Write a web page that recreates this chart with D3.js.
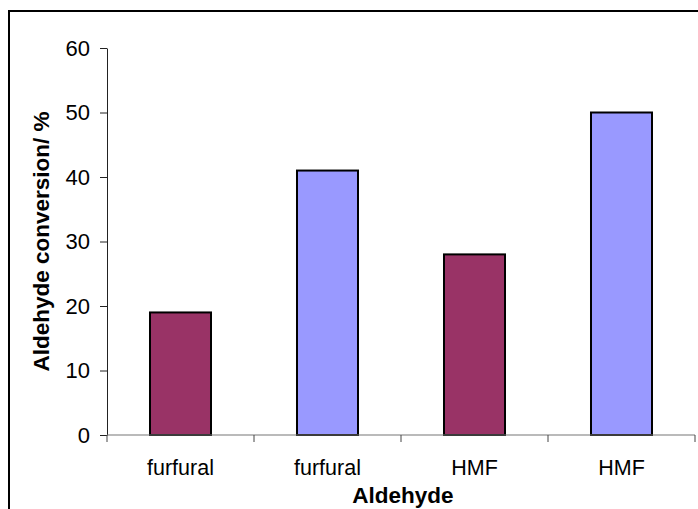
<!DOCTYPE html>
<html>
<head>
<meta charset="utf-8">
<script src="https://cdn.jsdelivr.net/npm/d3@7"></script>
<style>
  html, body { margin: 0; padding: 0; background: #fff; }
  svg { display: block; }
  text { font-family: "Liberation Sans", Arial, sans-serif; fill: #000; }
</style>
</head>
<body>
<svg id="chart" width="698" height="509"></svg>
<script>
// Aldehyde conversion for each run
const categories = ["furfural", "furfural", "HMF", "HMF"];
const conversion = [19, 41, 28, 50];
const barColors = ["#993366", "#9999FF", "#993366", "#9999FF"];
const yTicks = [0, 10, 20, 30, 40, 50, 60];
const xTitle = "Aldehyde";
const yTitle = "Aldehyde conversion/ %";

const svg = d3.select("#chart");
const plotLeft = 107, plotRight = 695, plotTop = 48, plotBottom = 435;

// Outer chart frame
svg.append("rect")
  .attr("x", 9).attr("y", 11)
  .attr("width", 720).attr("height", 540)
  .attr("fill", "none").attr("stroke", "#000").attr("stroke-width", 2);

const x = d3.scaleBand().domain(d3.range(categories.length)).range([plotLeft, plotRight]).padding(0);
const y = d3.scaleLinear().domain([0, 60]).range([plotBottom, plotTop]);

// Bars
const barW = x.bandwidth() * 0.415;
svg.append("g").selectAll("rect")
  .data(conversion)
  .join("rect")
  .attr("x", (d, i) => x(i) + (x.bandwidth() - barW) / 2)
  .attr("y", d => y(d))
  .attr("width", barW)
  .attr("height", d => y(0) - y(d))
  .attr("fill", (d, i) => barColors[i])
  .attr("stroke", "#000")
  .attr("stroke-width", 2);

// Y axis
const yAxis = svg.append("g")
  .attr("transform", `translate(${plotLeft},0)`)
  .call(d3.axisLeft(y).tickValues(yTicks).tickSize(7).tickSizeOuter(0).tickPadding(10));
yAxis.select(".domain").attr("stroke", "#222");
yAxis.selectAll(".tick line").attr("stroke", "#222");
yAxis.selectAll(".tick text")
  .style("font-size", "22px")
  .style("font-family", "'Liberation Sans', Arial, sans-serif");

// X axis: ticks sit on category boundaries
const boundaries = d3.range(categories.length + 1).map(i => plotLeft + i * x.step());
const xg = svg.append("g").attr("transform", `translate(0,${plotBottom})`);
xg.append("line")
  .attr("x1", plotLeft).attr("x2", plotRight)
  .attr("stroke", "#777").attr("stroke-width", 1.2);
xg.selectAll("line.tick")
  .data(boundaries)
  .join("line")
  .attr("class", "tick")
  .attr("x1", d => d).attr("x2", d => d)
  .attr("y1", 0).attr("y2", 7)
  .attr("stroke", "#444");
xg.selectAll("text")
  .data(categories)
  .join("text")
  .attr("x", (d, i) => x(i) + x.bandwidth() / 2)
  .attr("y", 40)
  .attr("text-anchor", "middle")
  .style("font-size", "21.5px")
  .text(d => d);

// Axis titles
svg.append("text")
  .attr("x", (plotLeft + plotRight) / 2 + 2)
  .attr("y", 503)
  .attr("text-anchor", "middle")
  .style("font-size", "22.5px")
  .style("font-weight", "bold")
  .text(xTitle);

svg.append("text")
  .attr("transform", `translate(49,${(plotTop + plotBottom) / 2}) rotate(-90)`)
  .attr("text-anchor", "middle")
  .style("font-size", "22.5px")
  .style("font-weight", "bold")
  .text(yTitle);
</script>
</body>
</html>
